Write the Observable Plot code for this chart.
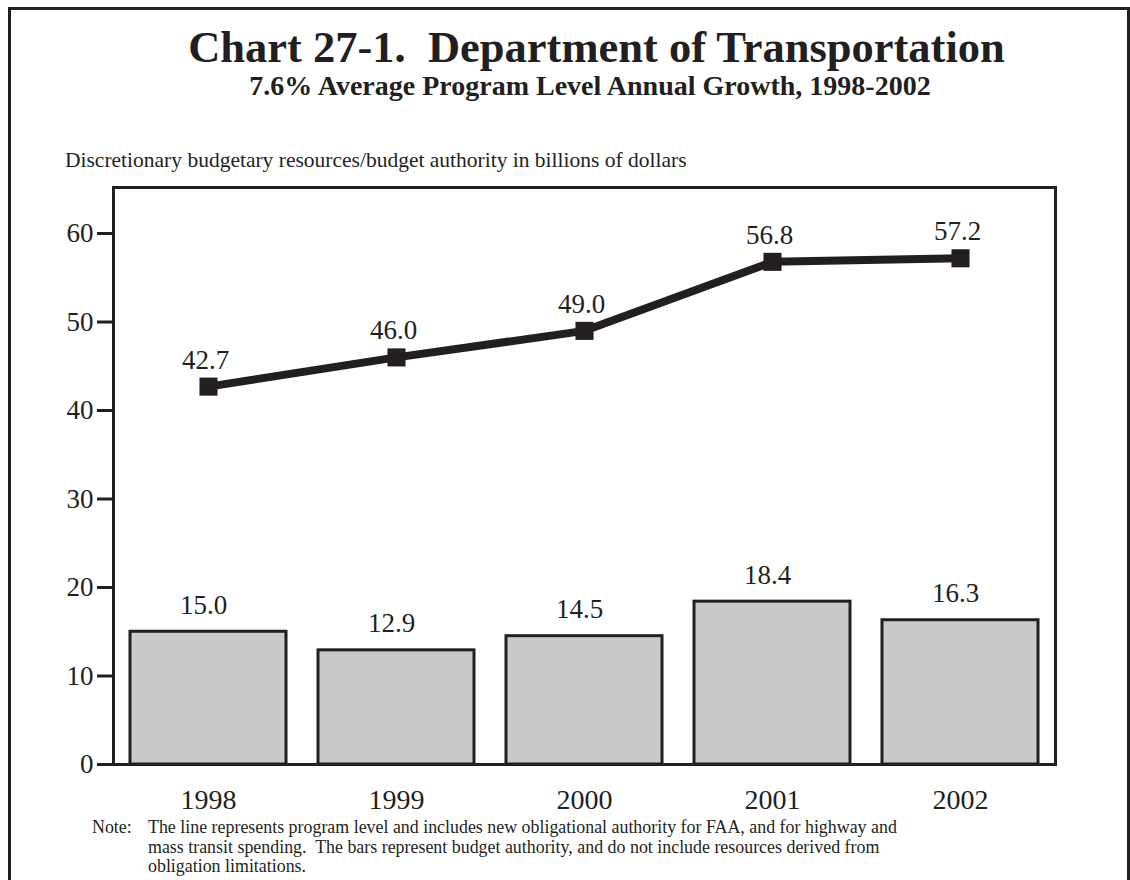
<!DOCTYPE html>
<html>
<head>
<meta charset="utf-8">
<script src="https://cdn.jsdelivr.net/npm/d3@7"></script>
<script src="https://cdn.jsdelivr.net/npm/@observablehq/plot@0.6"></script>
<style>
  html, body { margin: 0; padding: 0; background: #fff; }
  #page { position: relative; width: 1130px; height: 880px; overflow: hidden; font-family: "Liberation Serif", "Times New Roman", serif; color: #231f20; }
  #border { position: absolute; left: 8px; top: 7px; width: 1122px; height: 900px; border: 3px solid #231f20; box-sizing: border-box; }
  .t { position: absolute; white-space: nowrap; }
  #title { left: 0; width: 1193px; text-align: center; top: 25px; font-size: 44.5px; line-height: 44.5px; font-weight: bold; }
  #subtitle { left: 0; width: 1180px; text-align: center; top: 72px; font-size: 28px; line-height: 28px; font-weight: bold; }
  #caption { left: 65px; top: 150px; font-size: 21.5px; line-height: 21.5px; }
  #note { left: 92px; top: 818px; font-size: 17.9px; line-height: 19.5px; display: flex; }
  #note .lab { width: 56px; flex: none; }
  #chart { position: absolute; left: 0; top: 180px; }
</style>
</head>
<body>
<div id="page">
  <div id="border"></div>
  <div class="t" id="title">Chart 27-1.&nbsp; Department of Transportation</div>
  <div class="t" id="subtitle">7.6% Average Program Level Annual Growth, 1998-2002</div>
  <div class="t" id="caption">Discretionary budgetary resources/budget authority in billions of dollars</div>
  <div class="t" id="note"><span class="lab">Note:</span><span class="body">The line represents program level and includes new obligational authority for FAA, and for highway and<br>mass transit spending.&nbsp; The bars represent budget authority, and do not include resources derived from<br>obligation limitations.</span></div>
  <div id="chart"></div>
</div>
<script>
const years = ["1998", "1999", "2000", "2001", "2002"];
const programLevel = [42.7, 46.0, 49.0, 56.8, 57.2];
const budgetAuthority = [15.0, 12.9, 14.5, 18.4, 16.3];
const yTicks = [0, 10, 20, 30, 40, 50, 60];

const ink = "#231f20";
const lineData = years.map((year, i) => ({year, value: programLevel[i]}));
const barData = years.map((year, i) => ({year, value: budgetAuthority[i]}));

const chart = Plot.plot({
  width: 1130,
  height: 635,
  marginTop: 7,
  marginBottom: 51,
  marginLeft: 113,
  marginRight: 75,
  style: {fontFamily: "Liberation Serif, Times New Roman, serif", color: ink, background: "transparent"},
  x: {domain: years, paddingInner: 0.17, paddingOuter: 0.085},
  y: {domain: [0, 65.2]},
  marks: [
    Plot.barY(barData, {x: "year", y: "value", fill: "#c8c9cb", stroke: ink, strokeWidth: 3}),
    Plot.text(barData, {x: "year", y: "value", text: d => d.value.toFixed(1), lineAnchor: "bottom", dy: -18, dx: -5, fontSize: 27, fill: ink}),
    Plot.frame({stroke: ink, strokeWidth: 3}),
    Plot.line(lineData, {x: "year", y: "value", stroke: ink, strokeWidth: 8}),
    Plot.dot(lineData, {x: "year", y: "value", symbol: "square", r: 10.2, fill: ink, stroke: "none"}),
    Plot.text(lineData, {x: "year", y: "value", text: d => d.value.toFixed(1), lineAnchor: "bottom", dy: -18, dx: -3, fontSize: 27, fill: ink}),
    Plot.axisY({ticks: yTicks, tickSize: 16, tickPadding: 4, fontSize: 27, strokeWidth: 3, stroke: ink, label: null, tickFormat: d => String(d)}),
    Plot.axisX({tickSize: 0, tickPadding: 25, fontSize: 28, label: null})
  ]
});
document.getElementById("chart").appendChild(chart);
</script>
</body>
</html>
